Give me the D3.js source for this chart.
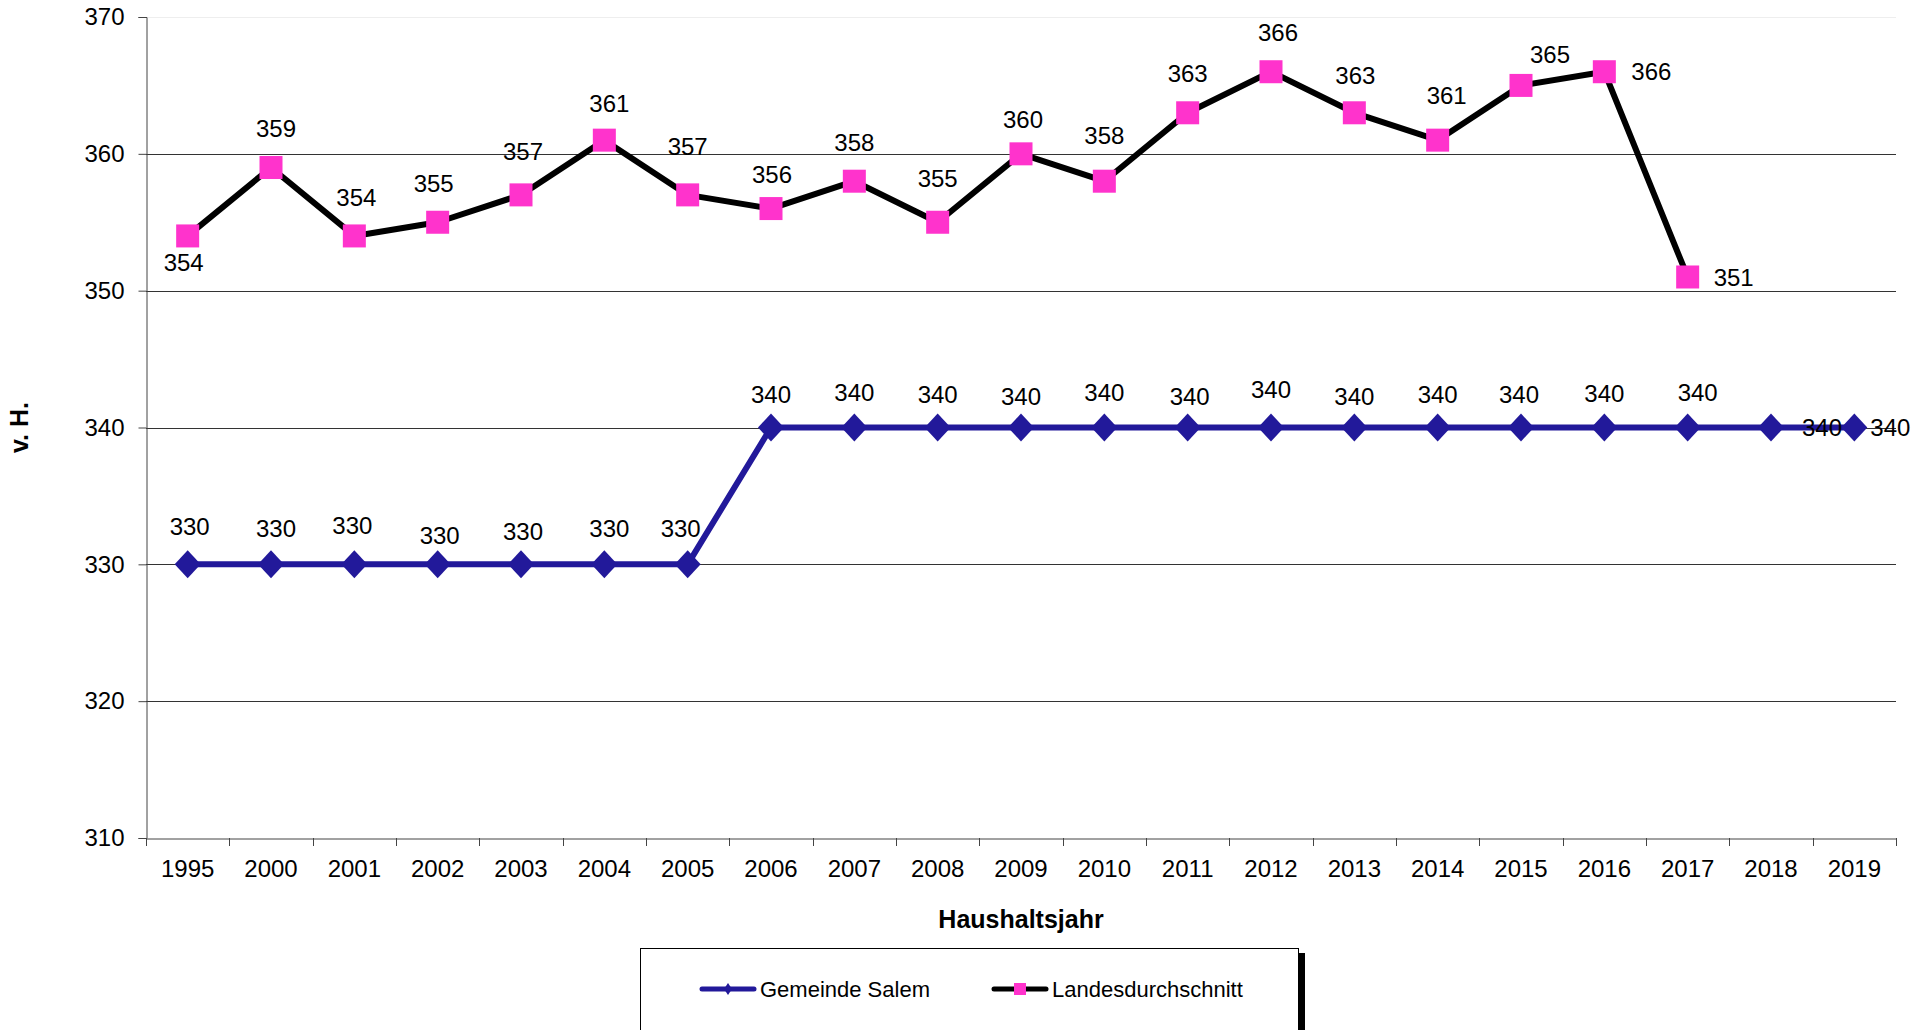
<!DOCTYPE html>
<html>
<head>
<meta charset="utf-8">
<script src="https://cdn.jsdelivr.net/npm/d3@7"></script>
<style>
  html, body { margin: 0; padding: 0; background: #fff; }
  svg { display: block; font-family: Arial, "Liberation Sans", sans-serif; }
</style>
</head>
<body>
<svg id="chart" width="1917" height="1030"></svg>
<script>
// ---- data ----
const years = ["1995","2000","2001","2002","2003","2004","2005","2006","2007","2008","2009","2010","2011","2012","2013","2014","2015","2016","2017","2018","2019"];
const salem = [330,330,330,330,330,330,330,340,340,340,340,340,340,340,340,340,340,340,340,340,340];
const landes = [354,359,354,355,357,361,357,356,358,355,360,358,363,366,363,361,365,366,351,null,null];
const yTicks = [310,320,330,340,350,360,370];
const seriesNames = ["Gemeinde Salem","Landesdurchschnitt"];
const yTitle = "v. H.";
const xTitle = "Haushaltsjahr";

// ---- label placement (layout, offsets from the marker in px) ----
const salemLabelOff = [[2,-38],[5,-36],[-2,-39],[2,-29],[2,-33],[5,-36],[-7,-36],
  [0,-33],[0,-35],[0,-33],[0,-31],[0,-35],[2,-31],[0,-38],[0,-31],[0,-33],[-2,-33],[0,-34],[10,-35],[51,0],[36,0]];
const landesLabelOff = [[-4,26],[5,-39],[2,-39],[-4,-39],[2,-44],[5,-37],[0,-49],
  [1,-34],[0,-39],[0,-44],[2,-34],[0,-46],[0,-39],[7,-39],[1,-37],[9,-45],[29,-31],[47,0],[46,0],null,null];

const svg = d3.select("#chart");
const pLeft = 146, pRight = 1896, pTop = 17, pBottom = 838;

const x = d3.scaleBand().domain(years).range([pLeft, pRight]).paddingInner(0).paddingOuter(0);
const y = d3.scaleLinear().domain([310, 370]).range([pBottom, pTop]);
const cx = d => x(d) + x.bandwidth() / 2;

const salemColor = "#22199a";
const pink = "#ff33cc";

// gridlines
svg.append("g").selectAll("line").data(yTicks.filter(t => t > 310)).join("line")
  .attr("x1", pLeft).attr("x2", pRight)
  .attr("y1", d => Math.round(y(d)) + 0.5).attr("y2", d => Math.round(y(d)) + 0.5)
  .attr("stroke", d => d === 370 ? "#eeeeee" : "#333")
  .attr("stroke-width", 1);

// y axis
const yAxis = svg.append("g").attr("transform", `translate(${pLeft + 0.5},0)`)
  .call(d3.axisLeft(y).tickValues(yTicks).tickSize(8).tickPadding(14).tickFormat(d3.format("d")));
yAxis.select(".domain").attr("stroke", "#444");
yAxis.selectAll(".tick line").attr("stroke", "#444");
yAxis.selectAll("text").attr("font-size", 24).attr("fill", "#000").attr("font-family", "Arial, 'Liberation Sans', sans-serif");

// x axis
const xAxis = svg.append("g").attr("transform", `translate(0,${pBottom + 0.5})`)
  .call(d3.axisBottom(x).tickSize(0).tickPadding(21));
xAxis.select(".domain").attr("stroke", "#444");
xAxis.selectAll("text").attr("font-size", 24).attr("fill", "#000").attr("font-family", "Arial, 'Liberation Sans', sans-serif");
// boundary tick marks
const bounds = years.map(d => x(d)).concat([pRight]);
svg.append("g").selectAll("line").data(bounds).join("line")
  .attr("x1", d => Math.round(d) + 0.5).attr("x2", d => Math.round(d) + 0.5)
  .attr("y1", pBottom).attr("y2", pBottom + 8)
  .attr("stroke", "#444");

// axis titles
svg.append("text").attr("x", (pLeft + pRight) / 2).attr("y", 928)
  .attr("text-anchor", "middle").attr("font-size", 25).attr("font-weight", "bold")
  .text(xTitle);
svg.append("text").attr("transform", `translate(28,${(pTop + pBottom) / 2}) rotate(-90)`)
  .attr("text-anchor", "middle").attr("font-size", 25).attr("font-weight", "bold")
  .text(yTitle);

// lines
const salemData = years.map((d, i) => ({ year: d, v: salem[i], off: salemLabelOff[i] }));
const landesData = years.map((d, i) => ({ year: d, v: landes[i], off: landesLabelOff[i] })).filter(d => d.v !== null);

const line = d3.line().x(d => cx(d.year)).y(d => y(d.v));

svg.append("path").datum(salemData).attr("d", line)
  .attr("fill", "none").attr("stroke", salemColor).attr("stroke-width", 6).attr("stroke-linejoin", "round");
svg.append("path").datum(landesData).attr("d", line)
  .attr("fill", "none").attr("stroke", "#000").attr("stroke-width", 6).attr("stroke-linejoin", "round");

// markers
const diamond = (hw, hh) => `M0,${-hh}L${hw},0L0,${hh}L${-hw},0Z`;
svg.append("g").selectAll("path").data(salemData).join("path")
  .attr("transform", d => `translate(${cx(d.year)},${y(d.v)})`)
  .attr("d", diamond(13, 14)).attr("fill", salemColor);
svg.append("g").selectAll("rect").data(landesData).join("rect")
  .attr("x", d => cx(d.year) - 11.5).attr("y", d => y(d.v) - 11.5)
  .attr("width", 23).attr("height", 23).attr("fill", pink);

// data labels
function labels(data) {
  svg.append("g").selectAll("text").data(data).join("text")
    .attr("x", d => cx(d.year) + d.off[0]).attr("y", d => y(d.v) + d.off[1])
    .attr("dy", "0.36em").attr("text-anchor", "middle").attr("font-size", 24).attr("fill", "#000")
    .text(d => d.v);
}
labels(landesData);
labels(salemData);

// legend
const lg = svg.append("g");
lg.append("rect").attr("x", 1299).attr("y", 953).attr("width", 6).attr("height", 100).attr("fill", "#000");
lg.append("rect").attr("x", 640.5).attr("y", 948.5).attr("width", 658).attr("height", 120)
  .attr("fill", "#fff").attr("stroke", "#000").attr("stroke-width", 1);
const legendItems = [
  { name: seriesNames[0], x1: 700, x2: 756, tx: 760, color: salemColor, marker: "diamond" },
  { name: seriesNames[1], x1: 992, x2: 1048, tx: 1052, color: "#000", marker: "square" }
];
const ly = 989;
legendItems.forEach(it => {
  lg.append("line").attr("x1", it.x1 + 2).attr("x2", it.x2 - 2).attr("y1", ly).attr("y2", ly)
    .attr("stroke", it.color).attr("stroke-width", 5).attr("stroke-linecap", "round");
  if (it.marker === "diamond") {
    lg.append("path").attr("transform", `translate(${(it.x1 + it.x2) / 2},${ly})`)
      .attr("d", diamond(4, 6)).attr("fill", it.color);
  } else {
    lg.append("rect").attr("x", (it.x1 + it.x2) / 2 - 6).attr("y", ly - 6)
      .attr("width", 12).attr("height", 12).attr("fill", pink);
  }
  lg.append("text").attr("x", it.tx).attr("y", ly).attr("dy", "0.36em")
    .attr("font-size", 22).attr("fill", "#000").text(it.name);
});
</script>
</body>
</html>
